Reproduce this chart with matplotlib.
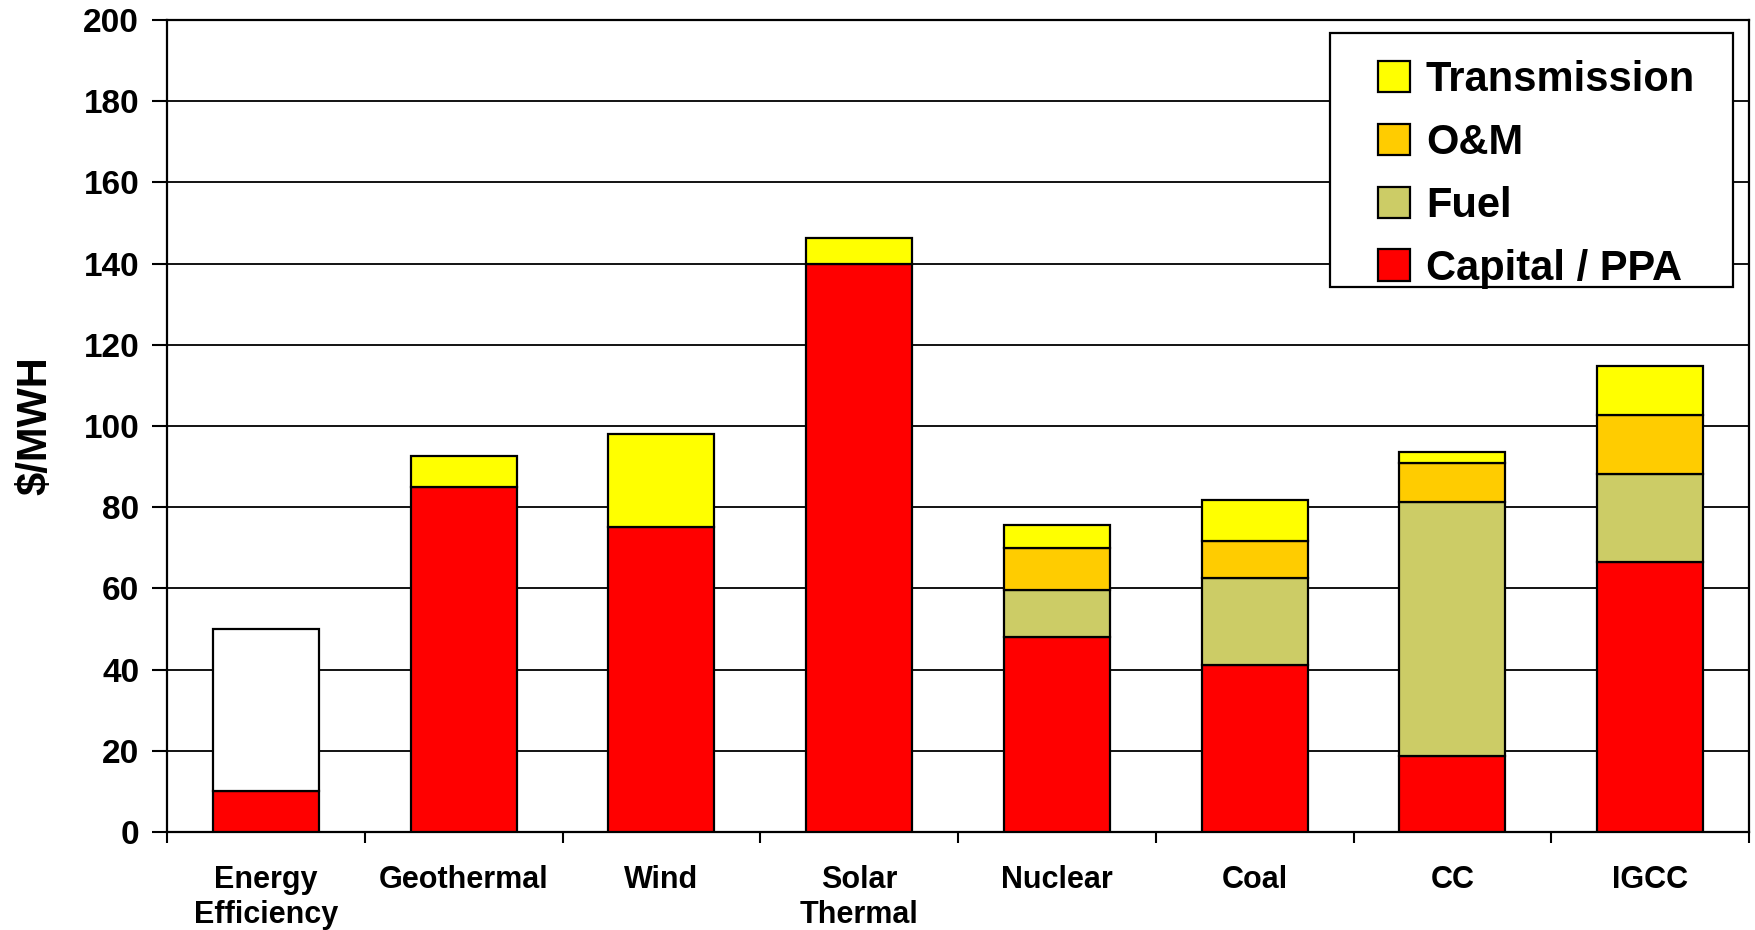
import numpy as np
import matplotlib
matplotlib.use("Agg")
import matplotlib.pyplot as plt
from matplotlib.patches import Rectangle, Patch

categories = ["Energy\nEfficiency", "Geothermal", "Wind", "Solar\nThermal",
              "Nuclear", "Coal", "CC", "IGCC"]
capital = [10, 85, 75.2, 140, 48, 41.1, 18.8, 66.5]
fuel = [0, 0, 0, 0, 11.5, 21.4, 62.5, 21.8]
om = [0, 0, 0, 0, 10.5, 9.2, 9.7, 14.3]
transmission = [0, 7.5, 22.9, 6.4, 5.7, 10.1, 2.5, 12.3]
efficiency_other = [40, 0, 0, 0, 0, 0, 0, 0]
yticks = [0, 20, 40, 60, 80, 100, 120, 140, 160, 180, 200]

plt.rcParams['font.family'] = ['Liberation Sans', 'DejaVu Sans']
plt.rcParams['font.weight'] = 'bold'

fig = plt.figure(figsize=(17.56, 9.30), dpi=100)
ax = fig.add_axes([167/1756, 1-832/930, (1749-167)/1756, (832-20)/930])

x = np.arange(len(categories))
w = 0.535
series = [
    ("Capital / PPA", capital, "#FF0000"),
    ("Fuel", fuel, "#CCCC66"),
    ("O&M", om, "#FFCC00"),
    ("Transmission", transmission, "#FFFF00"),
    (None, efficiency_other, "#FFFFFF"),
]
bottom = np.zeros(len(categories))
colors = {}
for label, vals, color in series:
    vals = np.array(vals, dtype=float)
    idx = np.nonzero(vals)[0]
    ax.bar(x[idx], vals[idx], w, bottom=bottom[idx], color=color,
           edgecolor="black", linewidth=1.6, zorder=3)
    if label:
        colors[label] = color
    bottom += vals

ax.set_xlim(-0.5, len(categories) - 0.5)
ax.set_ylim(0, 200)
ax.set_yticks(yticks)
ax.set_yticklabels([str(v) for v in yticks], fontsize=24, fontweight='bold')
ax.yaxis.grid(True, color="black", linewidth=1.3, zorder=0)
ax.set_axisbelow(True)

ax.set_xticks(x)
ax.set_xticklabels(categories, fontsize=22, fontweight='bold', linespacing=1.2)
ax.set_xticks(np.arange(-0.5, len(categories)), minor=True)
ax.tick_params(axis='x', which='major', length=0, pad=24)
ax.tick_params(axis='x', which='minor', length=8, width=1.5, direction='out')
ax.tick_params(axis='y', length=11, width=1.5, direction='out', pad=9)

for s in ax.spines.values():
    s.set_color("black")
    s.set_linewidth(1.6)

ax.set_ylabel("$/MWH", fontsize=30, fontweight='bold', labelpad=20)

# legend frame (drawn separately to match the wide padding of the original)
ax.add_patch(Rectangle((0.7351, 0.6712), 0.2548, 0.3128, transform=ax.transAxes,
                       facecolor='white', edgecolor='black', linewidth=1.6,
                       zorder=4))

order = ["Transmission", "O&M", "Fuel", "Capital / PPA"]
proxies = [Patch(facecolor=colors[k], edgecolor='black', linewidth=1.6) for k in order]
leg = ax.legend(proxies, order, loc='upper left',
                bbox_to_anchor=(0.7655, 0.951), borderaxespad=0,
                prop={'size': 30, 'weight': 'bold'}, frameon=False,
                handlelength=0.77, handleheight=0.77, handletextpad=0.38,
                labelspacing=0.55, borderpad=0)
leg.set_zorder(5)

fig.savefig("out.png", dpi=100)
